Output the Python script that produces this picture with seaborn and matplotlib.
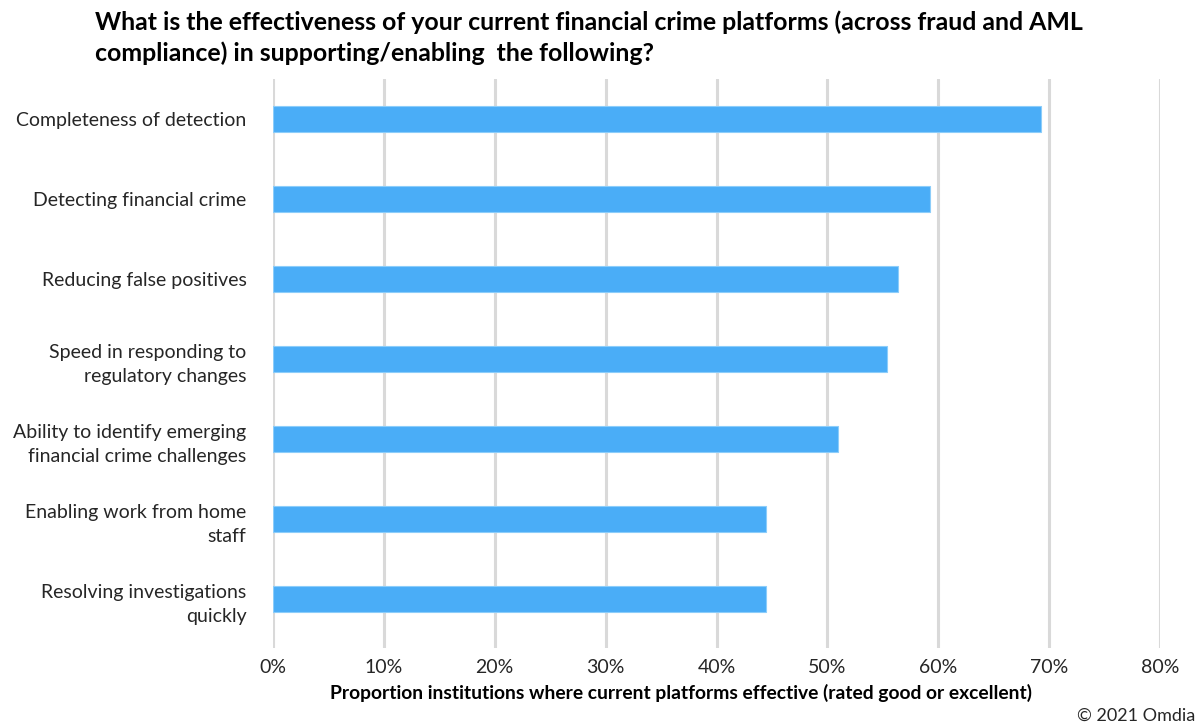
import matplotlib
matplotlib.use("Agg")
import matplotlib.pyplot as plt
import seaborn as sns
import pandas as pd
from matplotlib.ticker import PercentFormatter

categories = [
    "Completeness of detection",
    "Detecting financial crime",
    "Reducing false positives",
    "Speed in responding to\nregulatory changes",
    "Ability to identify emerging\nfinancial crime challenges",
    "Enabling work from home\nstaff",
    "Resolving investigations\nquickly",
]
values = [0.693, 0.593, 0.564, 0.554, 0.510, 0.445, 0.445]
xticks = [0, 0.1, 0.2, 0.3, 0.4, 0.5, 0.6, 0.7, 0.8]

title = ("What is the effectiveness of your current financial crime platforms (across fraud and AML\n"
         "compliance) in supporting/enabling  the following?")
xlabel = "Proportion institutions where current platforms effective (rated good or excellent)"

sns.set_theme(style="white")
plt.rcParams["font.family"] = ["Lato", "DejaVu Sans"]

df = pd.DataFrame({"cat": categories, "val": values})

fig = plt.figure(figsize=(12.03, 7.26), dpi=100)
ax = fig.add_axes([273/1203, 1-648/726, (1160-273)/1203, (648-79)/726])

sns.barplot(data=df, y="cat", x="val", color="#4aadf7", width=0.33,
            edgecolor="#8ccdfa", linewidth=0.8, saturation=1, ax=ax, zorder=3)

ax.set_xlim(0, 0.8)
ax.set_ylim(6.61, -0.5)
ax.set_xticks(xticks)
ax.xaxis.set_major_formatter(PercentFormatter(1.0, decimals=0))
ax.grid(axis="x", color="#d9d9d9", linewidth=2.2, zorder=0)
ax.grid(axis="y", visible=False)
for s in ax.spines.values():
    s.set_visible(False)
ax.tick_params(axis="both", length=0, labelsize=14, colors="#262626")
ax.tick_params(axis="x", pad=8)
ax.tick_params(axis="y", pad=19)
for lab in ax.get_yticklabels():
    lab.set_linespacing(1.5)
ax.set_ylabel("")
ax.set_xlabel(xlabel, fontsize=13.9, fontweight="bold", color="#000000")
ax.xaxis.set_label_coords((681-273)/887, -(693-648)/569, transform=ax.transAxes)
ax.xaxis.label.set_va("center")

fig.text(95/1203, 1-10/726, title, fontsize=17.9, fontweight="bold", color="#000000",
         va="top", ha="left", linespacing=1.4)
fig.text(1195/1203, 1-716/726, "© 2021 Omdia", fontsize=13, color="#262626",
         ha="right", va="center")

fig.savefig("out.png", dpi=100, facecolor="white")
